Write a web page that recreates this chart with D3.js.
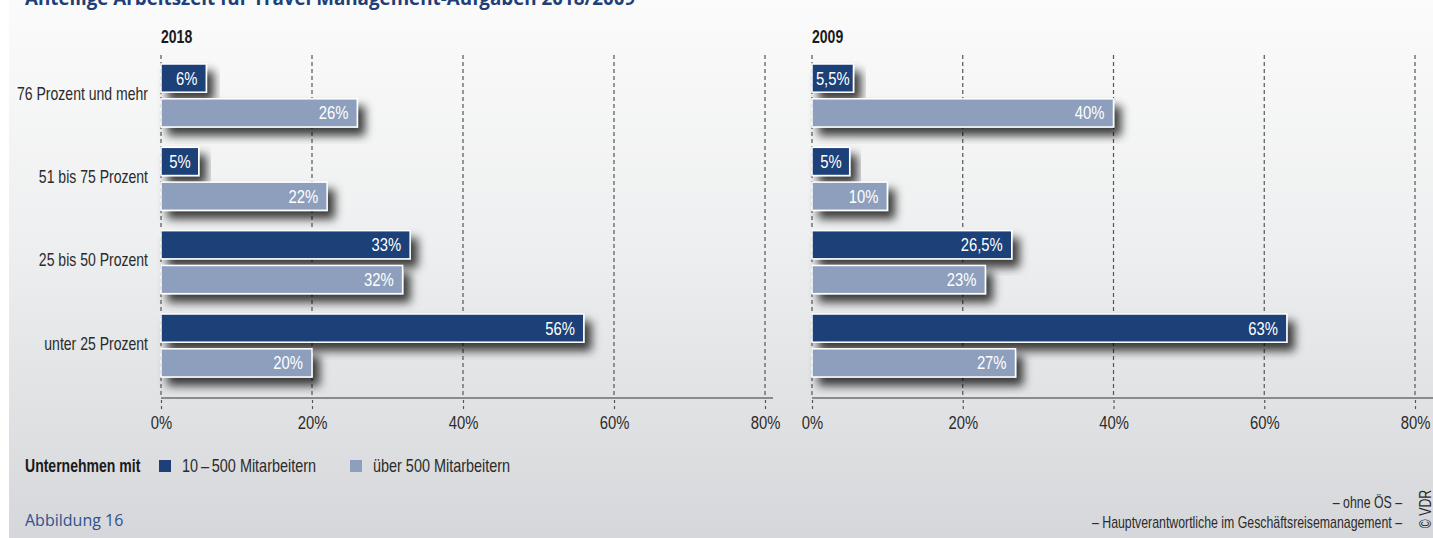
<!DOCTYPE html>
<html>
<head>
<meta charset="utf-8">
<script src="https://cdn.jsdelivr.net/npm/d3@7"></script>
<style>
  html, body { margin: 0; padding: 0; background: #fff; }
  svg { display: block; }
  .cond { font-family: "Liberation Sans", Arial, sans-serif; }
</style>
</head>
<body>
<script>
// chart data
const categories = ['76 Prozent und mehr', '51 bis 75 Prozent', '25 bis 50 Prozent', 'unter 25 Prozent'];
const seriesNames = ['10\u2009–\u2009500 Mitarbeitern', 'über 500 Mitarbeitern'];
const panelTitles = ['2018', '2009'];
const small2018 = [6, 5, 33, 56];
const large2018 = [26, 22, 32, 20];
const small2009 = [5.5, 5, 26.5, 63];
const large2009 = [40, 10, 23, 27];
const tickValues = [0, 20, 40, 60, 80];

const width = 1433;
const height = 538;
const colors = ['#1e3f78', '#8d9fbc'];
const textColor = '#2b2b2b';
const narrow = 0.78; // horizontal squeeze to get a condensed look

// turn x/y of a text into a translate + horizontal squeeze
const squeeze = function (sel, extra) {
  sel.each(function () {
    const t = d3.select(this);
    const x = +t.attr('x') || 0;
    const y = +t.attr('y') || 0;
    t.attr('x', 0).attr('y', 0)
      .attr('transform', `translate(${x},${y}) ${extra || ''} scale(${narrow},1)`);
  });
};

const svg = d3.select('body').append('svg')
  .attr('width', width)
  .attr('height', height);

const defs = svg.append('defs');

const grad = defs.append('linearGradient')
  .attr('id', 'bg')
  .attr('x1', 0).attr('y1', 0)
  .attr('x2', 0).attr('y2', 1);
grad.append('stop').attr('offset', '0%').attr('stop-color', '#fbfbfb');
grad.append('stop').attr('offset', '45%').attr('stop-color', '#eeeff0');
grad.append('stop').attr('offset', '100%').attr('stop-color', '#d6d7da');

const shadow = defs.append('filter')
  .attr('id', 'shadow')
  .attr('x', '-20%').attr('y', '-40%')
  .attr('width', '150%').attr('height', '200%');
shadow.append('feDropShadow')
  .attr('dx', 7)
  .attr('dy', 8)
  .attr('stdDeviation', 5)
  .attr('flood-color', '#000')
  .attr('flood-opacity', 0.75);

// background
svg.append('rect')
  .attr('x', 0).attr('y', 0)
  .attr('width', width).attr('height', height)
  .attr('fill', '#ffffff');
svg.append('rect')
  .attr('x', 9).attr('y', 0)
  .attr('width', width - 9).attr('height', height)
  .attr('fill', 'url(#bg)');

// title, cut off at the top like in the original
svg.append('text')
  .attr('x', 25)
  .attr('y', 5)
  .attr('fill', '#1e3f78')
  .style('font-family', '"Open Sans", sans-serif')
  .style('font-weight', 700)
  .style('font-size', '18.8px')
  .text('Anteilige Arbeitszeit für Travel Management-Aufgaben 2018/2009');

const y = d3.scaleBand()
  .domain(categories)
  .range([64, 377])
  .paddingInner(0.244)
  .paddingOuter(0);

const ySub = d3.scaleBand()
  .domain([0, 1])
  .range([0, y.bandwidth()])
  .paddingInner(0.19);

const gridTop = 55;
const axisY = 398;

const panels = [
  { title: panelTitles[0], small: small2018, large: large2018, range: [161, 765], axisEnd: 773 },
  { title: panelTitles[1], small: small2009, large: large2009, range: [812, 1415], axisEnd: 1433 },
];

const fmt = (v) => String(v).replace('.', ',') + '%';

panels.forEach((p) => {
  const x = d3.scaleLinear().domain([0, 80]).range(p.range);
  const g = svg.append('g');

  // dashed grid lines
  g.selectAll('line.grid')
    .data(tickValues)
    .enter().append('line')
    .attr('class', 'grid')
    .attr('x1', (d) => x(d))
    .attr('x2', (d) => x(d))
    .attr('y1', gridTop)
    .attr('y2', axisY)
    .attr('stroke', '#555')
    .attr('stroke-width', 1.2)
    .attr('stroke-dasharray', '4,3');

  // axis with small dashed ticks below
  const axis = d3.axisBottom(x)
    .tickValues(tickValues)
    .tickSize(0)
    .tickPadding(0)
    .tickFormat((d) => d + '%');
  const ax = g.append('g')
    .attr('transform', `translate(0,${axisY})`)
    .call(axis);
  ax.select('.domain').remove();
  ax.selectAll('.tick text')
    .attr('class', 'cond')
    .attr('x', 0)
    .attr('y', 31)
    .attr('dy', null)
    .attr('fill', textColor)
    .style('font-size', '19px')
    .call(squeeze);
  ax.selectAll('.tick').append('line')
    .attr('y1', 2)
    .attr('y2', 12)
    .attr('stroke', '#555')
    .attr('stroke-width', 1.2)
    .attr('stroke-dasharray', '3,3');

  g.append('line')
    .attr('x1', p.range[0])
    .attr('x2', p.axisEnd)
    .attr('y1', axisY)
    .attr('y2', axisY)
    .attr('stroke', '#6e6e6e')
    .attr('stroke-width', 1.6);

  g.append('text')
    .attr('class', 'cond')
    .attr('x', p.range[0])
    .attr('y', 43)
    .attr('fill', '#1a1a1a')
    .style('font-weight', 700)
    .style('font-size', '18px')
    .text(p.title)
    .call(squeeze);

  const rows = [];
  categories.forEach((c, i) => {
    rows.push({ cat: c, s: 0, v: p.small[i] });
    rows.push({ cat: c, s: 1, v: p.large[i] });
  });

  const bars = g.selectAll('g.bar')
    .data(rows)
    .enter().append('g')
    .attr('class', 'bar')
    .attr('transform', (d) => `translate(0,${y(d.cat) + ySub(d.s)})`);

  bars.append('rect')
    .attr('x', x(0))
    .attr('y', 0)
    .attr('width', (d) => x(d.v) - x(0))
    .attr('height', ySub.bandwidth())
    .attr('fill', (d) => colors[d.s])
    .attr('stroke', '#ffffff')
    .attr('stroke-width', 1.5)
    .attr('filter', 'url(#shadow)');

  bars.append('text')
    .attr('class', 'cond')
    .attr('y', ySub.bandwidth() / 2 + 6.5)
    .attr('text-anchor', 'end')
    .attr('fill', '#ffffff')
    .style('font-size', '19px')
    .text((d) => fmt(d.v))
    .attr('x', function (d) {
      const w = x(d.v) - x(0);
      const tw = this.getComputedTextLength() * narrow;
      const pad = Math.min(9, (w - tw) / 2);
      return x(d.v) - pad;
    })
    .call(squeeze);
});

// category labels
svg.selectAll('text.cat')
  .data(categories)
  .enter().append('text')
  .attr('class', 'cond')
  .attr('x', 148)
  .attr('y', (d) => y(d) + y.bandwidth() / 2 + 4)
  .attr('text-anchor', 'end')
  .attr('fill', textColor)
  .style('font-size', '18px')
  .text((d) => d)
  .call(squeeze);

// legend
const legendY = 472;
svg.append('text')
  .attr('class', 'cond')
  .attr('x', 25)
  .attr('y', legendY)
  .attr('fill', '#1a1a1a')
  .style('font-weight', 700)
  .style('font-size', '18px')
  .text('Unternehmen mit')
  .call(squeeze);

const legendX = [159, 350];
seriesNames.forEach((name, i) => {
  svg.append('rect')
    .attr('x', legendX[i])
    .attr('y', legendY - 12)
    .attr('width', 12)
    .attr('height', 12)
    .attr('fill', colors[i]);
  svg.append('text')
    .attr('class', 'cond')
    .attr('x', legendX[i] + 23)
    .attr('y', legendY)
    .attr('fill', textColor)
    .style('font-size', '18.5px')
    .text(name)
    .call(squeeze);
});

// footer
svg.append('text')
  .attr('x', 25)
  .attr('y', 526)
  .attr('fill', '#2d5290')
  .style('font-family', '"Open Sans", sans-serif')
  .style('font-size', '16px')
  .text('Abbildung 16');

svg.append('text')
  .attr('class', 'cond')
  .attr('x', 1402)
  .attr('y', 508)
  .attr('text-anchor', 'end')
  .attr('fill', textColor)
  .style('font-size', '15.8px')
  .text('– ohne ÖS –')
  .call(squeeze);

svg.append('text')
  .attr('class', 'cond')
  .attr('x', 1402)
  .attr('y', 528)
  .attr('text-anchor', 'end')
  .attr('fill', textColor)
  .style('font-size', '15.8px')
  .text('– Hauptverantwortliche im Geschäftsreisemanagement –')
  .call(squeeze);

svg.append('text')
  .attr('class', 'cond')
  .attr('x', 1431)
  .attr('y', 509)
  .attr('text-anchor', 'middle')
  .attr('fill', textColor)
  .style('font-size', '15.8px')
  .text('© VDR')
  .call(squeeze, 'rotate(-90)');
</script>
</body>
</html>
